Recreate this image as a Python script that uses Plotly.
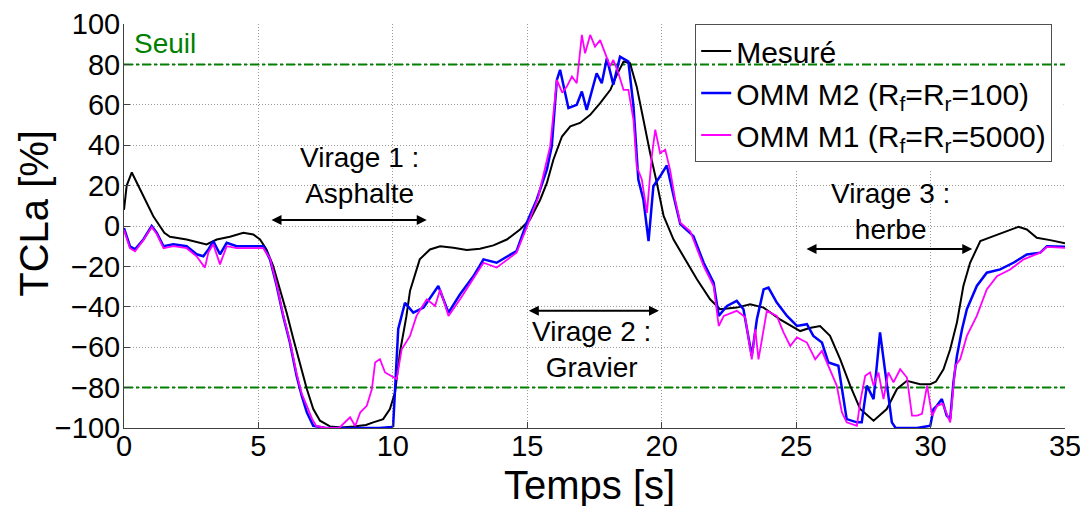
import plotly.graph_objects as go

# --- data ---------------------------------------------------------------
# Mesure (black)
t_mesure = [0, 0.1, 0.29, 0.6, 1.09, 1.5, 1.71, 2.33, 3.07, 3.45,
            3.94, 4.44, 4.81, 5.06, 5.3, 5.55, 5.8, 6.05, 6.3, 6.55,
            6.8, 7.04, 7.29, 7.66, 8.1, 8.53, 9.0, 9.27, 9.64, 9.89,
            10.08, 10.27, 10.5, 10.64, 10.76, 11.0, 11.38, 11.76, 12.25, 12.75,
            13.24, 13.74, 14.24, 14.73, 15.1, 15.48, 15.73, 15.97, 16.29, 16.6,
            16.96, 17.34, 17.71, 18.09, 18.33, 18.58, 18.82, 19.07, 19.32, 19.57,
            19.82, 20.07, 20.44, 20.81, 21.31, 21.8, 22.17, 22.79, 23.29, 23.79,
            24.4, 25.15, 25.5, 25.89, 26.26, 26.64, 27.01, 27.38, 27.88, 28.37,
            28.75, 29.12, 29.61, 29.99, 30.2, 30.48, 30.73, 30.98, 31.22, 31.47,
            31.85, 32.34, 32.84, 33.27, 33.58, 33.95, 34.45, 35]
tcla_mesure = [8, 20, 26.5, 18, 4.8, -3.4, -5.3, -6.7, -9.1, -6.7,
               -5.3, -3.4, -4.2, -6.7, -11.6, -19.9, -31.4, -42.9, -56, -69,
               -80.7, -90.6, -96.4, -99.2, -99.8, -99.3, -98.5, -97.2, -95.6, -90.6,
               -82.4, -62, -45, -32, -27, -16.5, -11.6, -10, -10.8, -11.9,
               -11.3, -9.6, -6.7, -1.7, 3.2, 13, 21.3, 32.8, 44.3, 49.3,
               51, 55, 60.8, 67.4, 74.8, 81.4, 80.6, 69, 52.6, 36,
               21.3, 5, -6.7, -14.9, -26.4, -36.3, -41.2, -40.4, -38.8, -40.4,
               -46.2, -52, -50.5, -49.5, -54.4, -66, -79, -90.6, -96.4, -90.6,
               -80.7, -76.6, -78.3, -78.3, -77, -70.9, -61, -47.8, -29.7, -18.2,
               -7.5, -5, -2.6, -0.4, -1.7, -5.8, -7, -8.5]

# OMM M2 (blue)
t_m2 = [0, 0.22, 0.41, 0.72, 1.03, 1.22, 1.47, 1.84, 2.33, 2.7,
        2.95, 3.14, 3.32, 3.57, 3.82, 4.19, 4.81, 5.18, 5.43, 5.68,
        5.92, 6.17, 6.42, 6.61, 6.8, 7.04, 7.5, 8.5, 9.5, 9.96,
        10.01, 10.2, 10.45, 10.76, 11.14, 11.69, 12.07, 12.5, 13.0, 13.37,
        13.86, 14.6, 14.98, 15.35, 15.73, 15.91, 16.1, 16.22, 16.41, 16.53,
        16.84, 17.03, 17.21, 17.58, 17.77, 17.96, 18.2, 18.45, 18.76, 18.95,
        19.13, 19.32, 19.51, 19.69, 19.94, 20.19, 20.44, 20.69, 21.18, 21.56,
        21.93, 22.12, 22.43, 22.79, 23.04, 23.35, 23.54, 23.79, 23.97, 24.28,
        24.66, 25.03, 25.4, 25.64, 25.96, 26.2, 26.57, 26.7, 26.88, 27.26,
        27.44, 27.63, 27.88, 28.12, 28.31, 28.56, 28.7, 29.5, 29.99, 30.11,
        30.23, 30.42, 30.6, 30.73, 30.85, 30.98, 31.17, 31.35, 31.72, 32.09,
        32.59, 33.08, 33.58, 34.08, 34.33, 35]
tcla_m2 = [-1, -10, -11.6, -6.7, 0, -3.4, -10, -9.1, -10, -14,
           -15, -11.6, -7.5, -14, -8.3, -10, -10, -10, -16.5, -29.7,
           -44.5, -57.7, -74.2, -84, -92.2, -98.9, -100, -100, -100, -99.5,
           -99, -51, -38, -42.9, -40.4, -29.7, -42.9, -33.8, -24.8, -16.5,
           -18.2, -12.4, 1.6, 13, 28, 39.4, 72.3, 77.3, 65.8, 58.4,
           60, 66.6, 57.5, 75.6, 70.7, 83, 70, 83.8, 81.4, 59.2,
           23, 13, -7.5, 19.7, 24.6, 30, 15, 1, -5, -18.2,
           -28, -44.5, -39.6, -37.1, -41.2, -64.3, -46.2, -31.4, -30.5, -37.9,
           -44.5, -49.5, -48.6, -54.4, -57.7, -67.6, -69.2, -80.7, -95.6, -97.2,
           -97.2, -79, -85.7, -52.7, -70.9, -97.2, -100, -100, -98.9, -90.6,
           -89, -85.7, -93.9, -95.6, -77.4, -64.3, -51.1, -41.2, -29.7, -23.1,
           -21.5, -18.2, -14.1, -13.2, -10, -10.3]

# OMM M1 (magenta)
t_m1 = [0, 0.22, 0.41, 0.72, 1.03, 1.22, 1.47, 1.84, 2.33, 2.7,
        3.01, 3.14, 3.32, 3.57, 3.82, 4.19, 4.81, 5.18, 5.43, 5.68,
        5.92, 6.17, 6.42, 6.61, 6.8, 7.0, 7.15, 7.5, 8.0, 8.41,
        8.6, 8.79, 9.03, 9.22, 9.34, 9.52, 9.71, 9.96, 10.14, 10.33,
        10.64, 10.88, 11.26, 11.57, 11.76, 12.07, 12.5, 12.93, 13.37, 13.86,
        14.6, 15.0, 15.4, 15.85, 16.1, 16.3, 16.47, 16.66, 16.84, 17.03,
        17.15, 17.34, 17.52, 17.71, 17.89, 18.08, 18.2, 18.39, 18.58, 18.76,
        18.95, 19.07, 19.26, 19.45, 19.63, 19.76, 19.94, 20.13, 20.31, 20.5,
        20.69, 21.06, 21.56, 21.93, 22.12, 22.31, 22.79, 23.1, 23.35, 23.48,
        23.6, 23.91, 24.28, 24.53, 24.78, 25.03, 25.4, 25.71, 25.96, 26.26,
        26.51, 26.7, 26.88, 27.26, 27.38, 27.57, 27.75, 27.88, 28.06, 28.25,
        28.43, 28.62, 28.87, 29.12, 29.31, 29.5, 29.68, 29.87, 30.06, 30.24,
        30.45, 30.73, 30.92, 31.1, 31.35, 31.72, 32.09, 32.47, 32.96, 33.46,
        34.08, 34.33, 35]
tcla_m1 = [-2, -11, -12.5, -7, -0.5, -4, -11, -10, -11, -15,
           -20.6, -13, -9, -19, -10, -11, -11, -11, -16, -29,
           -44, -57, -73, -83, -89, -95.6, -99, -100, -100, -94.7,
           -99, -92.2, -89, -80.7, -67.6, -65.9, -72.5, -74.2, -75.8, -61,
           -54.4, -44.5, -36.3, -39.6, -31.4, -44.5, -36.3, -27.3, -18.2, -20.6,
           -13.2, 0, 14, 39.4, 72.3, 66, 69, 74, 70.7, 94.6,
           85.5, 94.6, 88.8, 92, 85.5, 79, 82.2, 75.6, 67.4, 67.4,
           52.6, 29.5, 23, 6.5, 34.5, 47.7, 36, 37.8, 27.9, 13,
           1.6, -2.6, -19.9, -29.7, -49.5, -44.5, -42, -45, -66, -51,
           -66, -42, -44.5, -52.7, -59.4, -55.2, -57.7, -66, -61.8, -70.9,
           -79, -92.2, -97.2, -98.9, -87.3, -74.2, -72.5, -79, -72.5, -85.7,
           -72.5, -77.4, -70.9, -75, -93.9, -93.9, -93, -79, -94, -89,
           -88, -97.2, -69.2, -66, -54.4, -44.5, -31.4, -24.8, -21.5, -16.5,
           -13.2, -10.3, -10.8]

seuils = [80, -80]
t_range = [0, 35]

# virage annotations: (arrow start, arrow end, arrow level, text x, text, text y)
virages = [
    (5.43, 11.26, 3, 8.75, "Virage 1 :<br>Asphalte", 25.2),
    (15.0, 19.9, -42, 17.4, "Virage 2 :<br>Gravier", -61),
    (25.33, 31.55, -11.4, 28.5, "Virage 3 :<br>herbe", 7.2),
]

FONT = "Liberation Sans, Arial, sans-serif"

fig = go.Figure()

# legend area is blanked between the grid and the traces, as in MATLAB
fig.add_shape(type="rect", xref="x", yref="y", x0=21.2, x1=34.95, y0=27.6, y1=100,
              fillcolor="white", line=dict(width=0), layer="between")

for s in seuils:
    fig.add_trace(go.Scatter(x=t_range, y=[s, s], mode="lines", showlegend=False,
                             line=dict(color="#008000", width=2, dash="dashdot"),
                             hoverinfo="skip"))

fig.add_trace(go.Scatter(x=t_mesure, y=tcla_mesure, mode="lines", name="Mesuré",
                         line=dict(color="black", width=2)))
fig.add_trace(go.Scatter(x=t_m2, y=tcla_m2, mode="lines",
                         name="OMM M2 (R<sub>f</sub>=R<sub>r</sub>=100)",
                         line=dict(color="#0000ff", width=2.5)))
fig.add_trace(go.Scatter(x=t_m1, y=tcla_m1, mode="lines",
                         name="OMM M1 (R<sub>f</sub>=R<sub>r</sub>=5000)",
                         line=dict(color="#ff00ff", width=1.8)))

for x0, x1, lvl, xc, txt, ty in virages:
    fig.add_annotation(x=x1, y=lvl, ax=x0, ay=lvl, xref="x", yref="y", axref="x", ayref="y",
                       showarrow=True, arrowhead=2, arrowside="end+start", arrowsize=1,
                       arrowwidth=2, arrowcolor="black", text="")
    fig.add_annotation(x=xc, y=ty, xref="x", yref="y", text=txt, showarrow=False,
                       font=dict(size=28, color="black", family=FONT))

fig.add_annotation(x=0.3, y=90.5, xref="x", yref="y", text="Seuil", showarrow=False,
                   xanchor="left", font=dict(size=28, color="#008000", family=FONT))

# axis titles as annotations so they sit where MATLAB put them
fig.add_annotation(x=0.4945, y=-0.141, xref="paper", yref="paper", text="Temps [s]",
                   showarrow=False, xanchor="center", yanchor="middle",
                   font=dict(size=40, color="black", family=FONT))
fig.add_annotation(x=-0.096, y=0.532, xref="paper", yref="paper", text="TCLa [%]",
                   textangle=-90, showarrow=False, xanchor="center", yanchor="middle",
                   font=dict(size=40, color="black", family=FONT))

axis_common = dict(showgrid=True, gridcolor="#9a9a9a", griddash="1px,2px", gridwidth=1,
                   zeroline=False, showline=True, linecolor="#404040", linewidth=1,
                   ticks="inside", ticklen=6, tickcolor="#404040", automargin=False,
                   tickfont=dict(size=29, color="black", family=FONT))

fig.update_xaxes(range=t_range, dtick=5, tick0=0, ticklabelstandoff=-8, **axis_common)
fig.update_yaxes(range=[-100, 100], dtick=20, tick0=-100, ticklabelstandoff=-3, **axis_common)

# the page body adds an 8 px margin, so the figure is 8 px smaller than the window
fig.update_layout(
    width=1080, height=498,
    margin=dict(l=116, r=23, t=16, b=78),
    paper_bgcolor="white", plot_bgcolor="white",
    font=dict(family=FONT, color="black"),
    legend=dict(x=0.607, y=1, xanchor="left", yanchor="top",
                bgcolor="rgba(0,0,0,0)", bordercolor="#505050", borderwidth=1,
                font=dict(size=30, family=FONT, color="black"),
                itemwidth=30, tracegroupgap=0),
    showlegend=True,
)

fig.write_html("out.html")
